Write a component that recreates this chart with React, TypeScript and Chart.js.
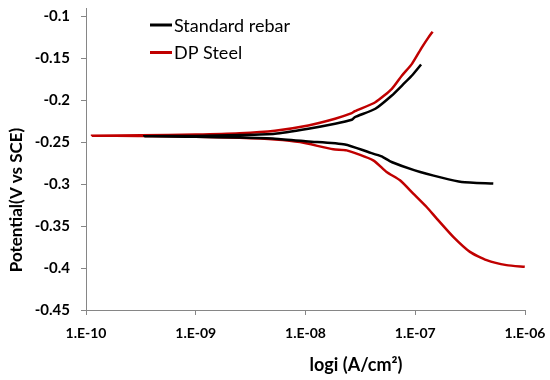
import { useEffect, useRef } from "react";
import { Chart, registerables } from "chart.js";

Chart.register(...registerables);

const xTickValues = [1e-10, 1e-9, 1e-8, 1e-7, 1e-6];
const xTickLabels = ["1.E-10", "1.E-09", "1.E-08", "1.E-07", "1.E-06"];
const yTickValues = [-0.1, -0.15, -0.2, -0.25, -0.3, -0.35, -0.4, -0.45];
const yTickLabels = ["-0.1", "-0.15", "-0.2", "-0.25", "-0.3", "-0.35", "-0.4", "-0.45"];

const seriesNames = ["Standard rebar", "DP Steel"];
const seriesColors = ["#000000", "#c00000"];

// Standard rebar: cathodic branch (high current -> icorr) then anodic branch
const rebarCurrent = [
  5.14e-7, 2.65e-7, 1.74e-7, 9.91e-8, 6.08e-8, 4.93e-8, 3.73e-8, 2.29e-8, 1.06e-8,
  5.27e-9, 2.51e-9, 1e-9, 3.4e-10,
  1e-9, 2.51e-9, 5.27e-9, 1.06e-8, 1.86e-8, 2.64e-8, 2.82e-8, 4.33e-8, 6.12e-8,
  7.57e-8, 9.33e-8, 1.13e-7,
];
const rebarPotential = [
  -0.2993, -0.2974, -0.2922, -0.2835, -0.2736, -0.2669, -0.2617, -0.2526, -0.249,
  -0.2458, -0.2445, -0.2435, -0.2429,
  -0.2425, -0.2415, -0.2399, -0.2339, -0.228, -0.2232, -0.2201, -0.2101, -0.1943,
  -0.1824, -0.1705, -0.1574,
];

// DP Steel
const dpCurrent = [
  9.95e-7, 6.79e-7, 4.47e-7, 3.15e-7, 2.22e-7, 1.57e-7, 1.27e-7, 9.59e-8, 7.26e-8,
  5.48e-8, 4.14e-8, 2.37e-8, 1.79e-8, 8.91e-9, 5.27e-9, 2.51e-9, 1e-9, 3.16e-10,
  1.135e-10,
  3.16e-10, 1e-9, 2.51e-9, 5.27e-9, 1.06e-8, 1.86e-8, 2.64e-8, 2.82e-8, 4.33e-8,
  6.12e-8, 7.57e-8, 9.33e-8, 1.15e-7, 1.32e-7, 1.44e-7,
];
const dpPotential = [
  -0.3985, -0.3965, -0.3905, -0.3807, -0.3628, -0.341, -0.3272, -0.3112, -0.2954,
  -0.2855, -0.2716, -0.2597, -0.2585, -0.2498, -0.2467, -0.2448, -0.2435, -0.2426,
  -0.2422,
  -0.2418, -0.2408, -0.2392, -0.2362, -0.23, -0.222, -0.2154, -0.213, -0.2023,
  -0.1864, -0.1705, -0.1566, -0.1369, -0.125, -0.1182,
];

const xTitle = "logi (A/cm²)";
const yTitle = "Potential(V vs SCE)";

const toPoints = (xs: number[], ys: number[]) => xs.map((x, i) => ({ x, y: ys[i] }));

const overlayPlugin = {
  id: "overlay",
  afterDraw(chart: any) {
    const ctx = chart.ctx as CanvasRenderingContext2D;
    ctx.save();
    chart.data.datasets.forEach((ds: any, i: number) => {
      const y = 25 + i * 27.5;
      ctx.strokeStyle = ds.borderColor;
      ctx.lineWidth = 3;
      ctx.beginPath();
      ctx.moveTo(150, y);
      ctx.lineTo(172, y);
      ctx.stroke();
      ctx.fillStyle = "#000";
      ctx.font = "18px Lato";
      ctx.textBaseline = "middle";
      ctx.textAlign = "left";
      ctx.fillText(ds.label, 174, y + 1);
    });
    ctx.fillStyle = "#000";
    ctx.font = "bold 18px Lato";
    ctx.textAlign = "center";
    ctx.textBaseline = "middle";
    ctx.fillText(xTitle, 356, 365);
    ctx.font = "bold 17px Lato";
    ctx.translate(17, 200);
    ctx.rotate(-Math.PI / 2);
    ctx.fillText(yTitle, 0, 0);
    ctx.restore();
  },
};

export default function App() {
  const ref = useRef<HTMLCanvasElement | null>(null);
  useEffect(() => {
    if (!ref.current) return;
    const chart = new Chart(ref.current, {
      type: "scatter",
      data: {
        datasets: [
          {
            label: seriesNames[0],
            data: toPoints(rebarCurrent, rebarPotential),
            borderColor: seriesColors[0],
            backgroundColor: seriesColors[0],
            showLine: true,
            pointRadius: 0,
            borderWidth: 2.5,
            tension: 0.2,
          },
          {
            label: seriesNames[1],
            data: toPoints(dpCurrent, dpPotential),
            borderColor: seriesColors[1],
            backgroundColor: seriesColors[1],
            showLine: true,
            pointRadius: 0,
            borderWidth: 2.5,
            tension: 0.2,
          },
        ],
      },
      options: {
        animation: false,
        responsive: false,
        maintainAspectRatio: false,
        layout: { padding: { top: 8, right: 25, left: 0, bottom: 0 } },
        plugins: { legend: { display: false }, tooltip: { enabled: false } },
        scales: {
          x: {
            type: "logarithmic",
            min: 1e-10,
            max: 1e-6,
            afterBuildTicks: (s: any) => {
              s.ticks = xTickValues.map((v) => ({ value: v }));
            },
            afterFit: (s: any) => {
              s.height = 70;
              s.paddingLeft = 0;
              s.paddingRight = 0;
            },
            ticks: {
              autoSkip: false,
              maxRotation: 0,
              padding: 10,
              color: "#000",
              font: { family: "Lato", size: 14, weight: "bold" },
              callback: (v: any) => {
                const i = xTickValues.findIndex((t) => Math.abs(Math.log10(t) - Math.log10(v)) < 1e-6);
                return i >= 0 ? xTickLabels[i] : "";
              },
            },
            grid: { drawOnChartArea: false, drawTicks: true, tickLength: 5, color: "#868686" },
            border: { color: "#868686", width: 1 },
          },
          y: {
            type: "linear",
            min: -0.45,
            max: -0.09,
            afterBuildTicks: (s: any) => {
              s.ticks = yTickValues.map((v) => ({ value: v }));
            },
            afterFit: (s: any) => {
              s.width = 86;
              s.paddingTop = 0;
              s.paddingBottom = 0;
            },
            ticks: {
              autoSkip: false,
              padding: 11,
              color: "#000",
              font: { family: "Lato", size: 15, weight: "bold" },
              callback: (v: any) => {
                const i = yTickValues.findIndex((t) => Math.abs(t - v) < 1e-9);
                return i >= 0 ? yTickLabels[i] : "";
              },
            },
            grid: { drawOnChartArea: false, drawTicks: true, tickLength: 5, color: "#868686" },
            border: { color: "#868686", width: 1 },
          },
        },
      },
      plugins: [overlayPlugin],
    });
    return () => chart.destroy();
  }, []);
  return (
    <div style={{ position: "fixed", left: 0, top: 0, width: 550, height: 380, background: "#fff" }}>
      <canvas ref={ref} width={550} height={380} style={{ width: 550, height: 380 }} />
    </div>
  );
}
